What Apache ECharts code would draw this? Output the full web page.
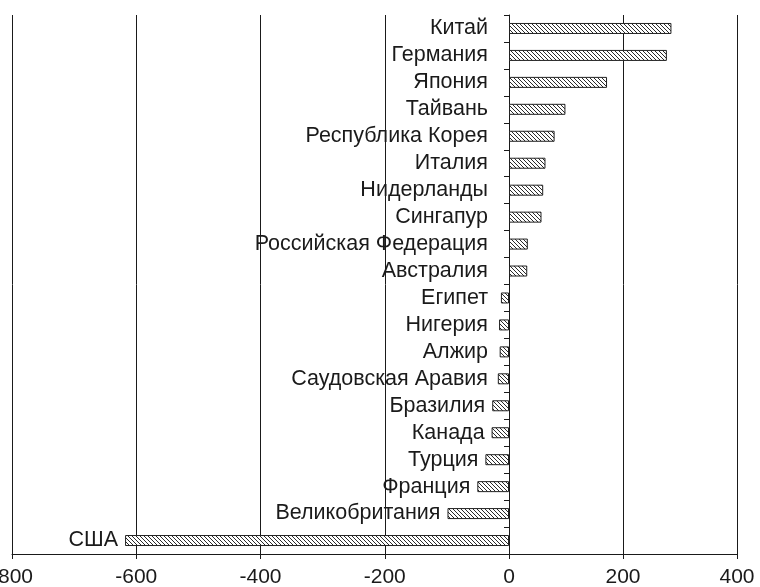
<!DOCTYPE html>
<html>
<head>
<meta charset="utf-8">
<script src="https://cdn.jsdelivr.net/npm/echarts@6/dist/echarts.min.js"></script>
<style>
  html, body { margin: 0; padding: 0; background: #fff; }
  #chart { width: 760px; height: 587px; }
</style>
</head>
<body>
<div id="chart"></div>
<script>
// data
const categories = [
  'Китай', 'Германия', 'Япония', 'Тайвань', 'Республика Корея', 'Италия',
  'Нидерланды', 'Сингапур', 'Российская Федерация', 'Австралия', 'Египет',
  'Нигерия', 'Алжир', 'Саудовская Аравия', 'Бразилия', 'Канада', 'Турция',
  'Франция', 'Великобритания', 'США'
];
const values = [285, 277, 172, 99, 80, 64, 60, 57, 33, 32, -13, -16, -15, -18, -27, -28, -38, -51, -99, -618];
const negTicks = [-800, -600, -400, -200, 0];
const posTicks = [0, 200, 400];

// layout (the left half of the axis is drawn a bit wider than the right one, like the original)
const LEFT = 12, ZERO = 509, END = 737, TOP = 15, BOTTOM = 33;
const FONT = "'Liberation Sans', Arial, sans-serif";
const INK = '#1a1a1a';
const pxPerUnitNeg = (ZERO - LEFT) / (negTicks[negTicks.length - 1] - negTicks[0]);

function hatch() {
  const c = document.createElement('canvas');
  c.width = 4; c.height = 4;
  const ctx = c.getContext('2d');
  ctx.fillStyle = '#fff';
  ctx.fillRect(0, 0, 4, 4);
  ctx.strokeStyle = '#2a2a2a';
  ctx.lineWidth = 1;
  ctx.beginPath();
  ctx.moveTo(-1, -1); ctx.lineTo(5, 5);
  ctx.moveTo(-1, 3); ctx.lineTo(1, 5);
  ctx.moveTo(3, -1); ctx.lineTo(5, 1);
  ctx.stroke();
  return c;
}
const pattern = { image: hatch(), repeat: 'repeat' };

const labelStyle = {
  show: true,
  position: 'left',
  fontFamily: FONT,
  fontSize: 21.5,
  color: INK,
  formatter: p => categories[p.dataIndex]
};

const posData = values.map(v => (v >= 0 ? v : '-'));
const negData = values.map(v => {
  if (v >= 0) return '-';
  // label sits left of the axis, or left of the bar end when the bar is longer
  const d = Math.max(7, 21 - Math.abs(v) * pxPerUnitNeg);
  return { value: v, label: { distance: d } };
});

const xCommon = {
  type: 'value',
  axisLine: { show: true, lineStyle: { color: INK, width: 1 } },
  axisTick: { show: true, length: 5, lineStyle: { color: INK } },
  axisLabel: { fontFamily: FONT, fontSize: 21, color: INK, margin: 13 },
  splitLine: { show: true, lineStyle: { color: INK, width: 1 } }
};

const option = {
  animation: false,
  backgroundColor: '#fff',
  grid: [
    { left: LEFT, right: 760 - ZERO, top: TOP, bottom: BOTTOM, outerBoundsMode: 'none', containLabel: false },
    { left: ZERO, right: 760 - END, top: TOP, bottom: BOTTOM, outerBoundsMode: 'none', containLabel: false }
  ],
  xAxis: [
    Object.assign({}, xCommon, {
      gridIndex: 0, min: negTicks[0], max: negTicks[negTicks.length - 1], interval: 200,
      axisLabel: Object.assign({}, xCommon.axisLabel, { showMaxLabel: false })
    }),
    Object.assign({}, xCommon, {
      gridIndex: 1, min: posTicks[0], max: posTicks[posTicks.length - 1], interval: 200
    })
  ],
  yAxis: [
    { type: 'category', gridIndex: 0, data: categories, inverse: true, show: false },
    {
      type: 'category', gridIndex: 1, data: categories, inverse: true,
      axisLine: { show: true, onZero: false, lineStyle: { color: INK } },
      axisTick: { show: true, length: 5, lineStyle: { color: INK } },
      axisLabel: { show: false },
      splitLine: { show: false }
    }
  ],
  series: [
    {
      type: 'bar', xAxisIndex: 0, yAxisIndex: 0, data: negData, barWidth: 11,
      itemStyle: { color: pattern, borderColor: '#222', borderWidth: 1 },
      label: labelStyle
    },
    {
      type: 'bar', xAxisIndex: 1, yAxisIndex: 1, data: posData, barWidth: 11,
      itemStyle: { color: pattern, borderColor: '#222', borderWidth: 1 },
      label: Object.assign({}, labelStyle, { distance: 21 })
    }
  ]
};

const chart = echarts.init(document.getElementById('chart'));
chart.setOption(option);
</script>
</body>
</html>
